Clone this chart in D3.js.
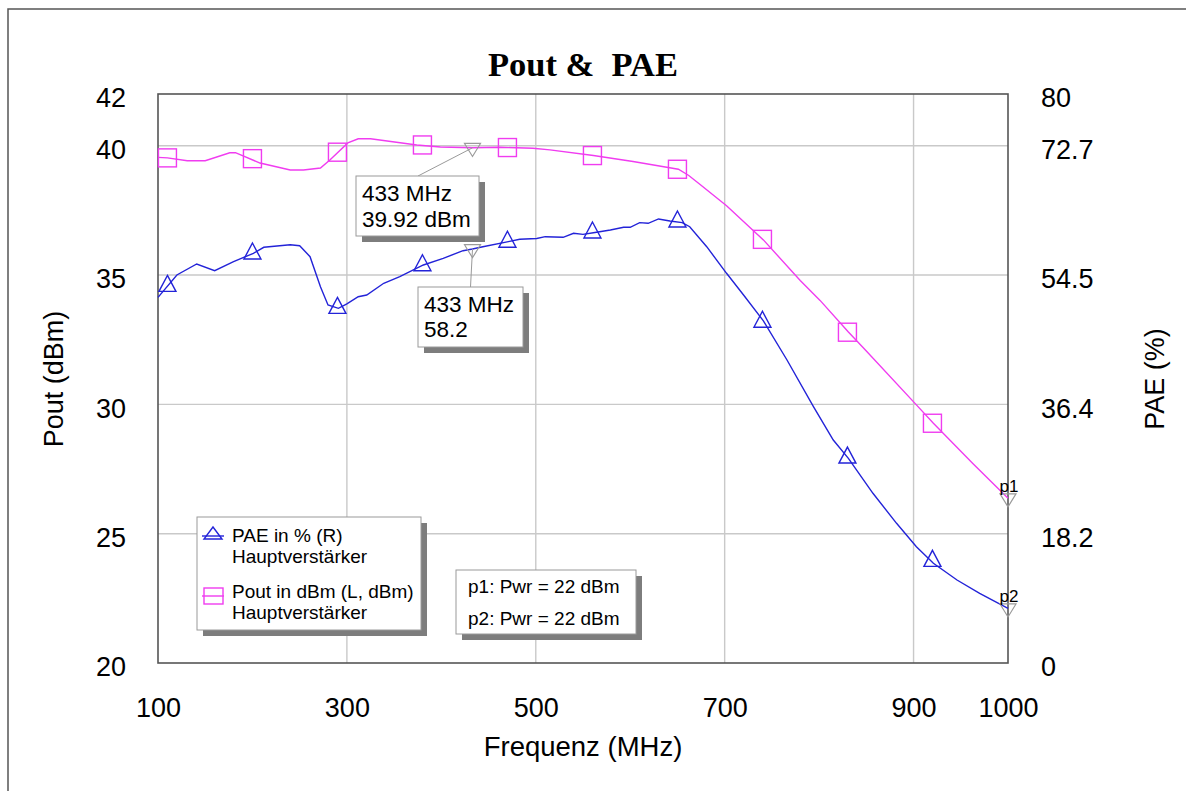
<!DOCTYPE html>
<html>
<head>
<meta charset="utf-8">
<script src="https://cdn.jsdelivr.net/npm/d3@7"></script>
<style>
  html, body { margin: 0; padding: 0; background: #fff; }
  svg { display: block; }
  text { font-family: "Liberation Sans", Arial, Helvetica, sans-serif; fill: #000; }
</style>
</head>
<body>
<svg id="chart" width="1186" height="791"></svg>
<script>
// Output power sweep (left axis, dBm)
const freqPout = [100, 110, 131, 150, 176, 182, 208, 240, 254, 272, 282, 301, 312, 325, 374, 399, 433, 462, 497, 515, 561, 603, 651, 662, 674, 702, 741, 780, 801, 831, 849, 903, 921, 963, 1000];
const poutDbm  = [39.55, 39.53, 39.42, 39.42, 39.73, 39.73, 39.33, 39.06, 39.06, 39.14, 39.45, 40.11, 40.27, 40.27, 40.03, 39.95, 39.92, 39.94, 39.90, 39.84, 39.62, 39.39, 39.09, 38.85, 38.50, 37.68, 36.36, 34.79, 34.02, 32.80, 32.10, 29.98, 29.27, 27.70, 26.37];

// Power added efficiency sweep (right axis, %)
const freqPae = [100, 120, 141, 160, 180, 201, 212, 240, 250, 261, 272, 280, 291, 300, 312, 321, 339, 356, 381, 402, 423, 433, 444, 471, 483, 501, 510, 529, 540, 550, 561, 579, 593, 600, 610, 619, 630, 642, 655, 663, 681, 702, 720, 741, 766, 794, 815, 831, 857, 882, 903, 921, 946, 970, 1000];
const paePct  = [51.4, 54.55, 56.10, 55.16, 56.42, 57.60, 58.45, 58.81, 58.67, 57.13, 52.91, 50.33, 49.87, 50.48, 51.50, 51.74, 53.39, 54.31, 55.96, 56.90, 57.97, 58.2, 58.53, 59.24, 59.57, 59.68, 59.94, 59.85, 60.42, 60.27, 60.50, 60.88, 61.26, 61.26, 61.91, 61.82, 62.43, 62.15, 61.91, 61.34, 58.53, 54.79, 51.74, 48.10, 42.60, 36.04, 31.35, 28.78, 23.86, 19.64, 16.35, 14.02, 11.67, 9.80, 7.69];

// Symbol positions on both traces
const markerFreq = [110, 200, 290, 380, 470, 560, 650, 740, 830, 920];
const markerPout = [39.53, 39.50, 39.75, 40.03, 39.93, 39.62, 39.09, 36.38, 32.79, 29.27];
const markerPae  = [53.0, 57.55, 49.9, 55.9, 59.2, 60.5, 62.05, 47.95, 28.86, 14.34];

// Marker readouts
const readoutFreq = 433;
const readoutPout = 39.92;
const readoutPae  = 58.2;
const endFreq = 1000;
const endPout = 26.37;
const endPae  = 7.69;

// Axis ticks
const xTicks = [100, 300, 500, 700, 900, 1000];
const xGrid  = [300, 500, 700, 900];
const leftTicks = [20, 25, 30, 35, 40, 42];
const leftGrid  = [25, 30, 35, 40];
const rightTicks = [0, 18.18, 36.36, 54.55, 72.73, 80];
const rightTickLabels = ["0", "18.2", "36.4", "54.5", "72.7", "80"];

const legendItems = [
  { name: "PAE in % (R)", sub: "Hauptverstärker", kind: "tri" },
  { name: "Pout in dBm (L, dBm)", sub: "Hauptverstärker", kind: "sq" }
];
const sweepNotes = ["p1: Pwr = 22 dBm", "p2: Pwr = 22 dBm"];

const MAGENTA = "#f03cf0";
const BLUE = "#2323d8";
const GRAYMK = "#9a9a9a";
const SHADOW = "#7d7d7d";

const svg = d3.select("#chart");
svg.append("rect").attr("width", 1186).attr("height", 791).attr("fill", "#fff");

// page frame
svg.append("path").attr("d", "M8,791 L8,9 L1186,9")
  .attr("fill", "none").attr("stroke", "#555").attr("stroke-width", 1.5);

const L = 158, R = 1008, T = 94, B = 663;
const x = d3.scaleLinear().domain([100, 1000]).range([L, R]);
const yL = d3.scaleLinear().domain([20, 42]).range([B, T]);
const yR = d3.scaleLinear().domain([0, 80]).range([B, T]);

// grid
const grid = svg.append("g").attr("stroke", "#c9c9c9").attr("stroke-width", 1.4);
grid.selectAll("line.v").data(xGrid).join("line").attr("class", "v")
  .attr("x1", d => x(d)).attr("x2", d => x(d)).attr("y1", T).attr("y2", B);
grid.selectAll("line.h").data(leftGrid).join("line").attr("class", "h")
  .attr("x1", L).attr("x2", R).attr("y1", d => yL(d)).attr("y2", d => yL(d));

// plot frame
svg.append("rect").attr("x", L).attr("y", T).attr("width", R - L).attr("height", B - T)
  .attr("fill", "none").attr("stroke", "#555").attr("stroke-width", 1.6);

// axes
const axisFont = g => {
  g.select(".domain").remove();
  g.selectAll("text").attr("font-size", 27).attr("font-family", "'Liberation Sans', Arial, sans-serif").attr("fill", "#000");
};
svg.append("g").attr("transform", `translate(${L},0)`)
  .call(d3.axisLeft(yL).tickValues(leftTicks).tickSize(0).tickPadding(32).tickFormat(d3.format("d")))
  .call(axisFont).selectAll("text").attr("dy", "0.47em");
svg.append("g").attr("transform", `translate(${R},0)`)
  .call(d3.axisRight(yR).tickValues(rightTicks).tickSize(0).tickPadding(33).tickFormat((d, i) => rightTickLabels[i]))
  .call(axisFont).selectAll("text").attr("dy", "0.47em");
svg.append("g").attr("transform", `translate(0,${B})`)
  .call(d3.axisBottom(x).tickValues(xTicks).tickSize(0).tickPadding(35).tickFormat(d3.format("d")))
  .call(axisFont);

// titles
svg.append("text").attr("x", 583).attr("y", 76).attr("text-anchor", "middle")
  .style("font-family", "'Liberation Serif', 'Times New Roman', serif").style("white-space", "pre")
  .attr("font-weight", "bold").attr("font-size", 34.5).text("Pout &  PAE");
svg.append("text").attr("x", 583).attr("y", 756).attr("text-anchor", "middle")
  .attr("font-size", 27.5).text("Frequenz (MHz)");
svg.append("text").attr("transform", "translate(63,379) rotate(-90)").attr("text-anchor", "middle")
  .attr("font-size", 27).text("Pout (dBm)");
svg.append("text").attr("transform", "translate(1164,379) rotate(-90)").attr("text-anchor", "middle")
  .attr("font-size", 27).text("PAE (%)");

// traces
const poutLine = d3.line().x(d => x(d[0])).y(d => yL(d[1]));
const paeLine = d3.line().x(d => x(d[0])).y(d => yR(d[1]));

svg.append("path").datum(d3.zip(freqPout, poutDbm)).attr("d", poutLine)
  .attr("fill", "none").attr("stroke", MAGENTA).attr("stroke-width", 1.4);
svg.append("path").datum(d3.zip(freqPae, paePct)).attr("d", paeLine)
  .attr("fill", "none").attr("stroke", BLUE).attr("stroke-width", 1.4);

// symbols
const triUp = (cx, cy, w, h) => `M${cx},${cy - 2 * h / 3} L${cx + w / 2},${cy + h / 3} L${cx - w / 2},${cy + h / 3} Z`;
const triDown = (cx, cy, w, h) => `M${cx - w / 2},${cy - h / 3} L${cx + w / 2},${cy - h / 3} L${cx},${cy + 2 * h / 3} Z`;

svg.append("g").selectAll("rect").data(d3.zip(markerFreq, markerPout)).join("rect")
  .attr("x", d => x(d[0]) - 9).attr("y", d => yL(d[1]) - 9).attr("width", 18).attr("height", 18)
  .attr("fill", "none").attr("stroke", MAGENTA).attr("stroke-width", 1.4);
svg.append("g").selectAll("path").data(d3.zip(markerFreq, markerPae)).join("path")
  .attr("d", d => triUp(x(d[0]), yR(d[1]), 17, 16))
  .attr("fill", "none").attr("stroke", BLUE).attr("stroke-width", 1.4);

// readout boxes
function noteBox(bx, by, bw, bh, lines, size, lineGap, padX, firstBase) {
  const g = svg.append("g");
  g.append("rect").attr("x", bx + 6).attr("y", by + 6).attr("width", bw).attr("height", bh).attr("fill", SHADOW);
  g.append("rect").attr("x", bx).attr("y", by).attr("width", bw).attr("height", bh)
    .attr("fill", "#fff").attr("stroke", "#9a9a9a").attr("stroke-width", 1);
  g.selectAll("text").data(lines).join("text")
    .attr("x", bx + padX).attr("y", (d, i) => by + firstBase + i * lineGap)
    .attr("font-size", size).text(d => d);
  return g;
}

const rx = x(readoutFreq);
// leader lines
svg.append("line").attr("x1", 418).attr("y1", 176).attr("x2", rx).attr("y2", yL(readoutPout))
  .attr("stroke", GRAYMK).attr("stroke-width", 1);
svg.append("line").attr("x1", rx - 2).attr("y1", 287).attr("x2", rx).attr("y2", yR(readoutPae))
  .attr("stroke", GRAYMK).attr("stroke-width", 1);

svg.append("path").attr("d", triDown(rx, yL(readoutPout), 16, 13))
  .attr("fill", "none").attr("stroke", GRAYMK).attr("stroke-width", 1.2);
svg.append("path").attr("d", triDown(rx, yR(readoutPae), 16, 13))
  .attr("fill", "none").attr("stroke", GRAYMK).attr("stroke-width", 1.2);

noteBox(356, 176, 123, 60, [`${readoutFreq} MHz`, `${readoutPout.toFixed(2)} dBm`], 22.5, 26, 6, 25);
noteBox(418, 287, 105, 60, [`${readoutFreq} MHz`, `${readoutPae}`], 22.5, 25, 6, 25);

// sweep end markers
const ends = [
  { label: "p1", y: yL(endPout) },
  { label: "p2", y: yR(endPae) }
];
ends.forEach(e => {
  svg.append("path").attr("d", triDown(x(endFreq), e.y, 16, 13))
    .attr("fill", "none").attr("stroke", GRAYMK).attr("stroke-width", 1.2);
  svg.append("text").attr("x", x(endFreq) + 1).attr("y", e.y - 6).attr("text-anchor", "middle")
    .attr("font-size", 17).text(e.label);
});

// legend
const lg = svg.append("g");
lg.append("rect").attr("x", 203).attr("y", 523).attr("width", 224).attr("height", 113).attr("fill", SHADOW);
lg.append("rect").attr("x", 197).attr("y", 517).attr("width", 224).attr("height", 113)
  .attr("fill", "#fff").attr("stroke", "#9a9a9a").attr("stroke-width", 1);
legendItems.forEach((it, i) => {
  const cy = 534 + i * 56;
  const col = it.kind === "tri" ? BLUE : MAGENTA;
  lg.append("line").attr("x1", 202).attr("x2", 224).attr("y1", it.kind === "tri" ? cy + 2 : cy + 6).attr("y2", it.kind === "tri" ? cy + 2 : cy + 6)
    .attr("stroke", col).attr("stroke-width", 1.4);
  if (it.kind === "tri") {
    lg.append("path").attr("d", triUp(213, cy + 1, 18, 12)).attr("fill", "none").attr("stroke", col).attr("stroke-width", 1.4);
  } else {
    lg.append("rect").attr("x", 204).attr("y", cy - 2).attr("width", 19).attr("height", 16)
      .attr("fill", "none").attr("stroke", col).attr("stroke-width", 1.4);
  }
  lg.append("text").attr("x", 232).attr("y", cy + 8).attr("font-size", 19).text(it.name);
  lg.append("text").attr("x", 232).attr("y", cy + 29).attr("font-size", 19).text(it.sub);
});

noteBox(456, 570, 180, 64, sweepNotes, 19, 32, 12, 23);
</script>
</body>
</html>
